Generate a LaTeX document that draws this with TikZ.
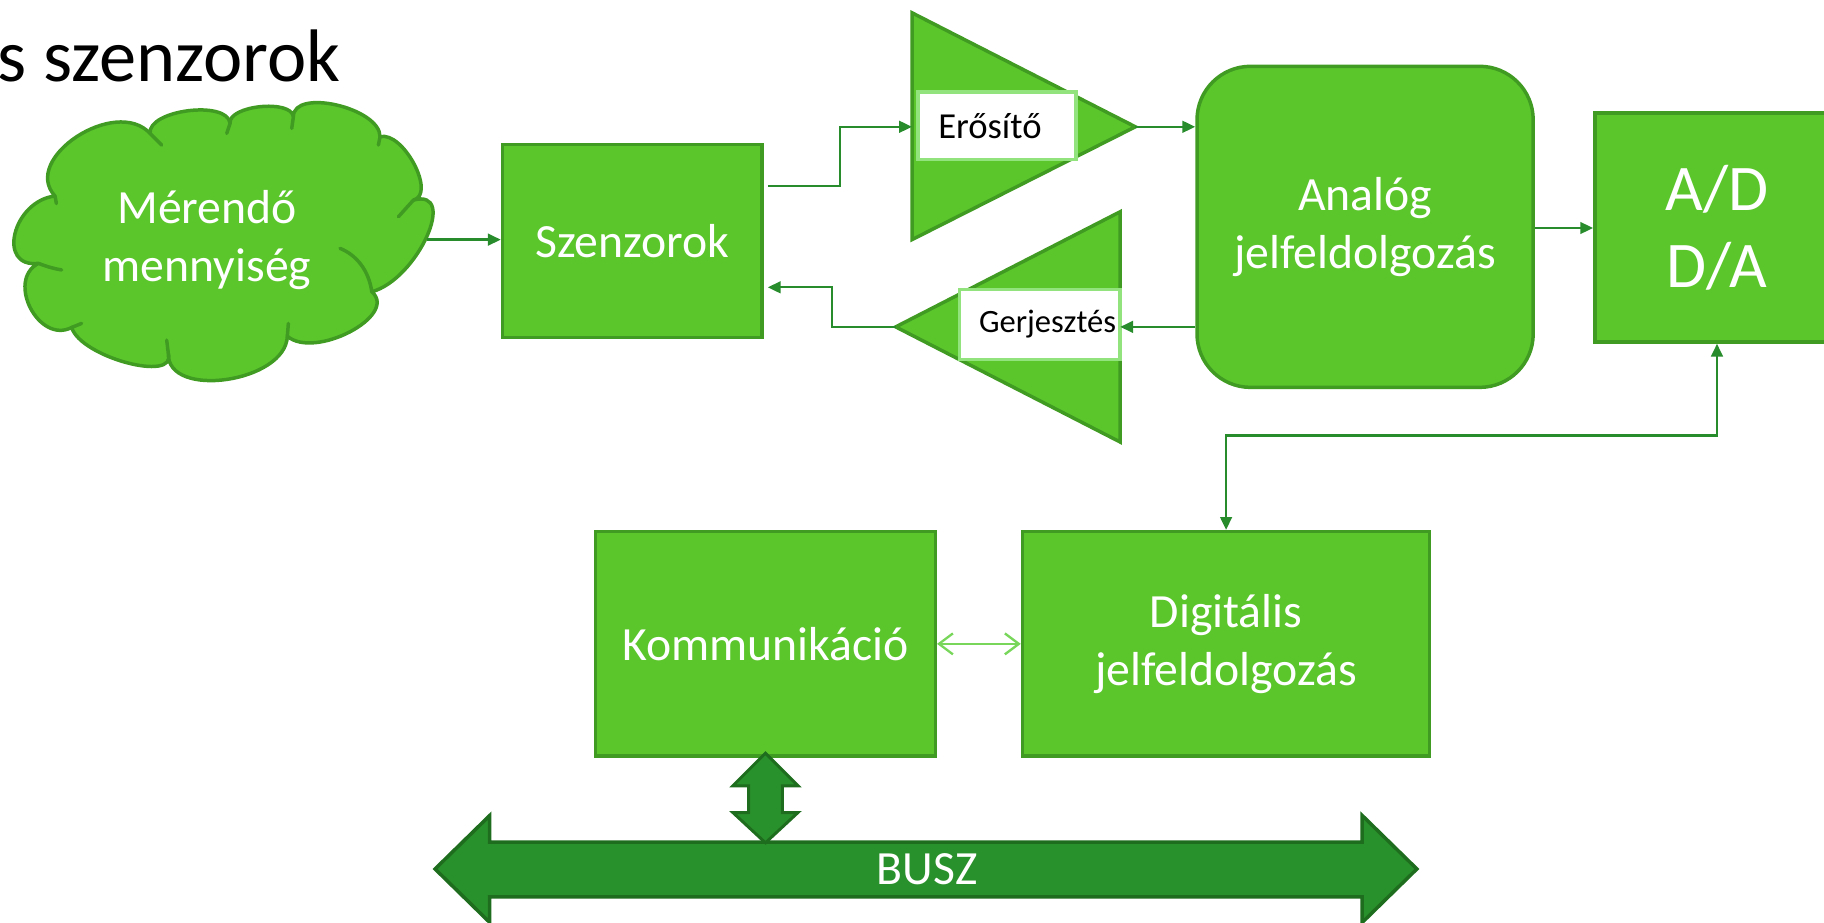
\documentclass[tikz,border=0pt]{standalone}
\usepackage{fontspec}
\setmainfont{Carlito}
\usetikzlibrary{arrows.meta,calc}
\definecolor{fillG}{RGB}{91,198,44}
\definecolor{edgeG}{RGB}{64,155,34}
\definecolor{connG}{RGB}{40,140,45}
\definecolor{lightG}{RGB}{120,215,90}
\definecolor{lblG}{RGB}{146,226,125}
\definecolor{busFill}{RGB}{41,145,43}
\definecolor{busEdge}{RGB}{30,108,30}
\begin{document}
\begin{tikzpicture}[x=1pt,y=-1pt,
  box/.style={draw=edgeG, fill=fillG, line width=3pt, text=white,
    font=\fontsize{41}{50}\selectfont, align=center, inner sep=0pt},
  tri/.style={draw=edgeG, fill=fillG, line width=3pt},
  lbl/.style={draw=lblG, fill=white, line width=3pt, inner sep=0pt, text=black},
  conn/.style={draw=connG, line width=2pt, -{Triangle[length=11pt,width=10pt]}},
  lconn/.style={draw=lightG, line width=2pt,
    {Straight Barb[length=12pt,width=18pt]}-{Straight Barb[length=12pt,width=18pt]}},
  busS/.style={draw=busEdge, fill=busFill, line width=3pt, line join=miter},
  cloudS/.style={draw=edgeG, fill=fillG, line width=3pt, line join=round},
  wtext/.style={text=white, font=\fontsize{41}{50}\selectfont, align=center, inner sep=0pt}
]
\useasboundingbox (0,0) rectangle (1568,793);
\clip (0,0) rectangle (1568,793);

% title
\node[anchor=base east, inner sep=0pt, font=\fontsize{64}{74}\selectfont] (title) at (293,70) {s szenzorok};

% cloud
\path[cloudS] (47.3,168.5)
  .. controls (11.0,172.7) and (-3.3,230.6) .. (33.0,226.4)
  .. controls (4.9,241.1) and (33.5,296.2) .. (61.6,281.5)
  .. controls (69.3,307.0) and (152.4,329.3) .. (144.7,303.8)
  .. controls (143.4,343.5) and (245.7,328.7) .. (247,289)
  .. controls (270.5,309.4) and (343.1,271.2) .. (319.6,250.8)
  .. controls (358.7,240.3) and (394.5,161.5) .. (355.4,172)
  .. controls (375.3,167) and (346.6,112.5) .. (326.7,117.5)
  .. controls (326.7,92.7) and (252.2,75.5) .. (252.2,100.3)
  .. controls (250.2,85) and (195.8,90.8) .. (197.8,106.1)
  .. controls (195.8,85.8) and (127,94.4) .. (129,114.7)
  .. controls (99.3,82.6) and (17.6,136.4) .. (47.3,168.5) -- cycle;
\draw[edgeG, line width=3pt, line cap=round]
  (47.3,168.5) -- (48.5,175)
  (33.0,226.4) .. controls (40,229) and (46,231) .. (53,232)
  (61.6,281.5) -- (70.2,278)
  (144.7,303.8) -- (143.3,292.4)
  (247,289) -- (247.9,278)
  (319.6,250.8) .. controls (317,232) and (306,219) .. (292.3,213.5)
  (355.4,172) -- (342.5,186.3)
  (326.7,117.5) -- (325.3,124.7)
  (252.2,100.3) -- (250.8,110.4)
  (197.8,106.1) -- (194.9,114.7)
  (129,114.7) -- (139,124.7);
\node[wtext] (meren) at (178,206) {Mérendő\\mennyiség};
\coordinate (cloudE) at (367,206);

% boxes
\node[box, minimum width=223pt, minimum height=166pt] (szenz) at (543.5,207) {Szenzorok};
\node[box, rounded corners=46pt, minimum width=289pt, minimum height=276pt] (analog) at (1173.5,195) {Analóg\\jelfeldolgozás};
\node[box, minimum width=210pt, minimum height=197pt, font=\fontsize{56}{66}\selectfont] (ad) at (1476,195.5) {A/D\\D/A};
\node[box, minimum width=292pt, minimum height=193pt] (komm) at (658,553.5) {Kommunikáció};
\node[box, minimum width=350pt, minimum height=193pt] (digit) at (1054,553.5) {Digitális\\jelfeldolgozás};

% amplifier triangles
\draw[tri] (784,11) -- (976,109) -- (784,206) -- cycle;
\draw[tri] (963,182) -- (963,380) -- (770,281) -- cycle;
\node[lbl, minimum width=136pt, minimum height=58pt, font=\fontsize{31.5}{36}\selectfont] (erolbl) at (857,108) {Erősítő\hspace*{12pt}};
\node[lbl, minimum width=138pt, minimum height=60pt, font=\fontsize{28}{32}\selectfont] (gerlbl) at (894,279) {\hspace*{13pt}Gerjesztés};
\coordinate (eroIn) at (784,109);
\coordinate (eroOut) at (976,109);
\coordinate (gerIn) at (963,281);
\coordinate (gerOut) at (770,281);
\coordinate (s1) at (660,160);
\coordinate (s2) at (660,247);
\coordinate (a1) at (1318,196);

% connectors
\draw[conn] (cloudE) -- (cloudE -| szenz.west);
\draw[conn] (s1) -| ($(s1)!.5!(eroIn)$) |- (eroIn);
\draw[conn] (eroOut) -- (eroOut -| analog.west);
\draw[conn] (analog.west |- gerIn) -- (gerIn);
\draw[conn] (gerOut) -| ($(gerOut)!.5!(s2)$) |- (s2);
\draw[conn] (analog.east |- a1) -- (ad.west |- a1);
\draw[conn, {Triangle[length=11pt,width=10pt]}-{Triangle[length=11pt,width=10pt]}]
  (ad.south) |- ($(digit.north)+(0,-81)$) -- (digit.north);
\draw[lconn] (komm.east) -- (digit.west);

% bus
\draw[busS] (374,747) -- (421,701) -- (421,724) -- (1171,724) -- (1171,701) -- (1218,747)
  -- (1171,793) -- (1171,771) -- (421,771) -- (421,793) -- cycle;
\node[wtext] (busz) at (797,747) {BUSZ};
\draw[busS, line width=2.5pt] ($(komm.south)+(0,-4)$) -- ++(28,28) -- ++(-13.5,0) -- ++(0,23)
  -- ++(13.5,0) -- ++(-28,26) -- ++(-28,-26) -- ++(13.5,0) -- ++(0,-23) -- ++(-13.5,0) -- cycle;
\end{tikzpicture}
\end{document}
